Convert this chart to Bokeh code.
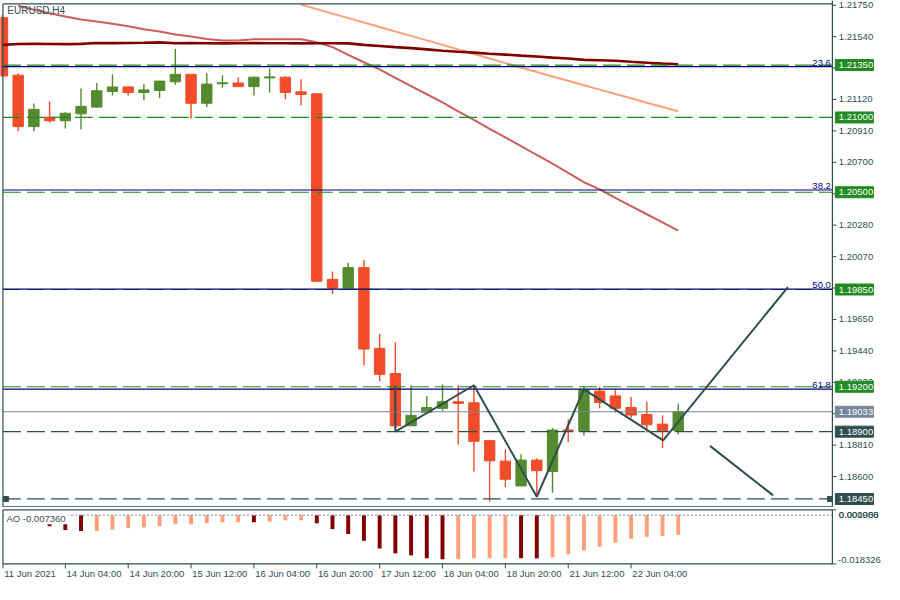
from bokeh.plotting import figure
from bokeh.layouts import column
from bokeh.models import Range1d
from bokeh.core.properties import value
from bokeh.embed import file_html
from bokeh.resources import INLINE

# ---------------- data ----------------
bars = list(range(44))
opens = [1.21667, 1.21282, 1.20939, 1.21002, 1.20978, 1.21024, 1.21069, 1.21173, 1.21204, 1.21167,
         1.21180, 1.21238, 1.21288, 1.21095, 1.21225, 1.21230, 1.21206, 1.21264, 1.21269, 1.21171,
         1.21158, 1.19918, 1.19859, 1.19996, 1.19457, 1.19288, 1.18939, 1.19030, 1.19056, 1.19100,
         1.19093, 1.18840, 1.18703, 1.18537, 1.18710, 1.18634, 1.18911, 1.18905, 1.19171, 1.19139,
         1.19061, 1.19015, 1.18950, 1.18907]
highs = [1.21684, 1.21295, 1.21093, 1.21106, 1.21035, 1.21193, 1.21230, 1.21288, 1.21210, 1.21223,
         1.21243, 1.21457, 1.21288, 1.21295, 1.21282, 1.21269, 1.21275, 1.21327, 1.21275, 1.21256,
         1.21158, 1.19970, 1.20028, 1.20048, 1.19554, 1.19496, 1.19210, 1.19139, 1.19216, 1.19210,
         1.19210, 1.18840, 1.18781, 1.18749, 1.18723, 1.18924, 1.18983, 1.19203, 1.19199, 1.19179,
         1.19132, 1.19100, 1.19009, 1.19087]
lows = [1.21275, 1.20907, 1.20907, 1.20965, 1.20926, 1.20920, 1.21063, 1.21147, 1.21147, 1.21115,
        1.21128, 1.21219, 1.20991, 1.21069, 1.21199, 1.21206, 1.21147, 1.21167, 1.21121, 1.21082,
        1.19905, 1.19820, 1.19853, 1.19342, 1.19238, 1.18905, 1.18939, 1.19030, 1.19035, 1.18814,
        1.18634, 1.18433, 1.18530, 1.18537, 1.18465, 1.18491, 1.18829, 1.18874, 1.19056, 1.19030,
        1.18991, 1.18894, 1.18790, 1.18881]
closes = [1.21277, 1.20939, 1.21054, 1.20978, 1.21028, 1.21074, 1.21178, 1.21204, 1.21167, 1.21184,
          1.21243, 1.21288, 1.21095, 1.21223, 1.21232, 1.21206, 1.21269, 1.21271, 1.21167, 1.21154,
          1.19905, 1.19859, 1.19996, 1.19452, 1.19283, 1.18939, 1.19009, 1.19061, 1.19100, 1.19089,
          1.18835, 1.18705, 1.18582, 1.18710, 1.18640, 1.18911, 1.18905, 1.19179, 1.19095, 1.19056,
          1.19011, 1.18946, 1.18907, 1.19035]

# moving averages
ma_slow_x = list(range(0, 44))
ma_slow = [1.21485, 1.21491, 1.21492, 1.21491, 1.21490, 1.21492, 1.21498, 1.21497, 1.21498, 1.21499,
           1.21502, 1.21496, 1.21497, 1.21496, 1.21495, 1.21496, 1.21497, 1.21496, 1.21496, 1.21495,
           1.21496, 1.21496, 1.21495, 1.21485, 1.21478, 1.21470, 1.21463, 1.21455, 1.21446, 1.21439,
           1.21433, 1.21426, 1.21420, 1.21413, 1.21407, 1.21400, 1.21394, 1.21385, 1.21382, 1.21379,
           1.21372, 1.21366, 1.21360, 1.21356]
ma_mid_x = list(range(1, 44))
ma_mid = [1.21746, 1.21720, 1.21697, 1.21674, 1.21655, 1.21642, 1.21626, 1.21610, 1.21590, 1.21574,
          1.21554, 1.21541, 1.21525, 1.21515, 1.21515, 1.21522, 1.21522, 1.21522, 1.21522, 1.21502,
          1.21470, 1.21418, 1.21369, 1.21321, 1.21265, 1.21210, 1.21155, 1.21100, 1.21041, 1.20983,
          1.20924, 1.20866, 1.20808, 1.20749, 1.20691, 1.20629, 1.20567, 1.20519, 1.20463, 1.20408,
          1.20353, 1.20298, 1.20243]
ma_fast_x = list(range(19, 44))
ma_fast = [1.21754, 1.21724, 1.21694, 1.21664, 1.21634, 1.21604, 1.21574, 1.21545, 1.21515, 1.21485,
           1.21455, 1.21424, 1.21394, 1.21363, 1.21334, 1.21304, 1.21274, 1.21245, 1.21215, 1.21186,
           1.21157, 1.21128, 1.21098, 1.21070, 1.21041]

# levels
green_levels = [1.21350, 1.21000, 1.20500, 1.19850, 1.19200]
fib_levels = [1.21340, 1.20515, 1.19853, 1.19184]
fib_names = ["23.6", "38.2", "50.0", "61.8"]
dark_levels = [1.18900, 1.18450]
current_price = 1.19033

# hand-drawn lines (bar index, price)
zig_x = [25, 25, 30, 34, 37, 42.04, 49.98]
zig_y = [1.19203, 1.18900, 1.19210, 1.18465, 1.19182, 1.18842, 1.19866]
proj_x = [45.02, 49.04]
proj_y = [1.18805, 1.18474]

price_ticks = ["1.21750", "1.21540", "1.21330", "1.21120", "1.20910", "1.20700", "1.20490",
               "1.20280", "1.20070", "1.19860", "1.19650", "1.19440", "1.19230", "1.19020",
               "1.18810", "1.18600"]

date_ticks = [0, 4, 8, 12, 16, 20, 24, 28, 32, 36, 40]
date_labels = ["11 Jun 2021", "14 Jun 04:00", "14 Jun 20:00", "15 Jun 12:00", "16 Jun 04:00",
               "16 Jun 20:00", "17 Jun 12:00", "18 Jun 04:00", "18 Jun 20:00", "21 Jun 12:00",
               "22 Jun 04:00"]

ao_x = list(range(3, 44))
ao_vals = [-0.00414, -0.00560, -0.00596, -0.00594, -0.00535, -0.00487, -0.00462, -0.00414, -0.00341,
           -0.00338, -0.00304, -0.00268, -0.00266, -0.00270, -0.00243, -0.00195, -0.00193, -0.00304,
           -0.00523, -0.00706, -0.00961, -0.01253, -0.01436, -0.01509, -0.01619, -0.01655, -0.01650,
           -0.01619, -0.01615, -0.01612, -0.01618, -0.01625, -0.01582, -0.01473, -0.01327, -0.01181,
           -0.01035, -0.00888, -0.00815, -0.00779, -0.00736]
ao_max = 0.001988
ao_min = -0.018326

# ---------------- style ----------------
FONT = value("Liberation Sans")
FS = "9.5px"
INK = "#2F4F4F"
BULL = "#558B2F"
BEAR = "#F24C2A"
GREEN = "#228B22"
NAVY = "#000080"
GRAY = "#778899"

W = 884
H_MAIN = 507
H_AO = 76
X_START = -0.125
X_END = 56.125
AXIS_X = 52.81
LEFT_X = 0.03
BOX_CX = 54.21
BOX_W = 2.42
LBL_X = 53.22
DASH = "18 6"


def base_fig(h, yr, xr):
    f = figure(width=W, height=h, x_range=xr, y_range=yr, x_axis_location=None,
               y_axis_location=None, toolbar_location=None, output_backend="svg",
               min_border=0, min_border_left=0, min_border_right=0, min_border_top=0,
               min_border_bottom=0, outline_line_color=None, background_fill_color="white",
               border_fill_color="white")
    f.xgrid.visible = False
    f.ygrid.visible = False
    return f


main = base_fig(H_MAIN, Range1d(1.183930, 1.217816), Range1d(X_START, X_END))
y_top = 1.217588
y_bot = 1.18398

# candles
cols = [BULL if c >= o else BEAR for o, c in zip(opens, closes)]
tops = [max(o, c) for o, c in zip(opens, closes)]
bots = [min(o, c) for o, c in zip(opens, closes)]
main.segment(x0=bars, y0=lows, x1=bars, y1=highs, line_color=cols, line_width=1.4)
main.vbar(x=bars, width=0.66, top=tops, bottom=bots, fill_color=cols, line_color=cols, line_width=1)

# moving averages
main.line(ma_fast_x, ma_fast, line_color="#FFA07A", line_width=2)
main.line(ma_mid_x, ma_mid, line_color="#CD5C5C", line_width=2)
main.line(ma_slow_x, ma_slow, line_color="#800000", line_width=2.6)

# horizontal levels
n_g = len(green_levels)
main.segment(x0=[LEFT_X] * n_g, y0=green_levels, x1=[AXIS_X] * n_g, y1=green_levels,
             line_color=GREEN, line_width=1.2, line_dash=DASH)
n_f = len(fib_levels)
main.segment(x0=[LEFT_X] * n_f, y0=fib_levels, x1=[AXIS_X] * n_f, y1=fib_levels,
             line_color=NAVY, line_width=1.2)
main.text(x=[AXIS_X - 0.1] * n_f, y=fib_levels, text=fib_names, text_font=FONT,
          text_font_size=FS, text_color=NAVY, text_align="right", text_baseline="bottom",
          y_offset=-1)
n_d = len(dark_levels)
main.segment(x0=[LEFT_X] * n_d, y0=dark_levels, x1=[AXIS_X] * n_d, y1=dark_levels,
             line_color=INK, line_width=1.2, line_dash=DASH)
main.segment(x0=[LEFT_X], y0=[current_price], x1=[AXIS_X], y1=[current_price],
             line_color=GRAY, line_width=1.2)

# drawn lines
main.line(zig_x, zig_y, line_color=INK, line_width=2)
main.line(proj_x, proj_y, line_color=INK, line_width=2)

# small markers on the lowest level
main.rect(x=[0.22, 52.66], y=[dark_levels[1]] * 2, width=5, height=5, width_units="screen",
          height_units="screen", fill_color=INK, line_color=INK)

# frame
main.segment(x0=[LEFT_X, LEFT_X, LEFT_X, AXIS_X], y0=[y_top, y_bot, y_bot, y_bot],
             x1=[AXIS_X, AXIS_X, LEFT_X, AXIS_X], y1=[y_top, y_bot, y_top, 1.217816],
             line_color=INK, line_width=1.2)

# right price axis
tick_vals = [float(t) for t in price_ticks]
nt = len(tick_vals)
main.segment(x0=[AXIS_X] * nt, y0=tick_vals, x1=[AXIS_X + 0.25] * nt, y1=tick_vals,
             line_color=INK, line_width=1)
main.text(x=[LBL_X] * nt, y=tick_vals, text=price_ticks, text_font=FONT, text_font_size=FS,
          text_color=INK, text_align="left", text_baseline="middle")

box_vals = green_levels + [current_price] + dark_levels
box_cols = [GREEN] * n_g + [GRAY] + [INK] * n_d
box_txt = ["%.5f" % v for v in box_vals]
main.rect(x=[BOX_CX] * len(box_vals), y=box_vals, width=BOX_W, height=11, height_units="screen",
          fill_color=box_cols, line_color=box_cols)
main.text(x=[LBL_X] * len(box_vals), y=box_vals, text=box_txt, text_font=FONT,
          text_font_size=FS, text_color="white", text_align="left", text_baseline="middle")

main.text(x=[0.31], y=[1.21717], text=["EURUSD,H4"], text_font=FONT, text_font_size="10px",
          text_color=INK, text_align="left", text_baseline="middle")

# ---------------- AO sub-window ----------------
ao = base_fig(H_AO, Range1d(-0.02566, 0.002884), main.x_range)
ao_cols = []
for i, v in enumerate(ao_vals):
    if i == 0 or v < ao_vals[i - 1]:
        ao_cols.append("#800000")
    else:
        ao_cols.append("#FFA07A")
ao.vbar(x=ao_x, width=0.25, top=[0] * len(ao_x), bottom=ao_vals, fill_color=ao_cols,
        line_color=None)
ao.segment(x0=[LEFT_X], y0=[0], x1=[AXIS_X], y1=[0], line_color=GRAY, line_width=1,
           line_dash="2 2")
ao.quad(left=[0.125], right=[4.19], top=[0.00172], bottom=[-0.0034], fill_color="white",
        line_color=None)
ao.text(x=[0.25], y=[-0.0012], text=["AO -%.6f" % abs(ao_vals[-1])], text_font=FONT,
        text_font_size=FS, text_color=INK, text_align="left", text_baseline="middle")

# frame
ao.segment(x0=[LEFT_X, LEFT_X, LEFT_X, AXIS_X], y0=[ao_max, ao_min, ao_min, ao_min],
           x1=[AXIS_X, AXIS_X, LEFT_X, AXIS_X], y1=[ao_max, ao_min, ao_max, ao_max],
           line_color=INK, line_width=1.2)
ao.segment(x0=[AXIS_X] * 2, y0=[ao_max, ao_min], x1=[AXIS_X + 0.25] * 2, y1=[ao_max, ao_min],
           line_color=INK, line_width=1)
ao.text(x=[LBL_X, LBL_X], y=[0, 0], text=["%.6f" % ao_max, "%.6f" % 0.0], text_font=FONT,
        text_font_size=FS, text_color=INK, text_align="left", text_baseline="middle",
        y_offset=[-0.5, 0])
ao.text(x=[LBL_X - 0.05], y=[ao_min], text=["%.6f" % ao_min], text_font=FONT,
        text_font_size=FS, text_color=INK, text_align="left", text_baseline="bottom",
        y_offset=-1)

# date axis
tick_x = [max(t, LEFT_X) for t in date_ticks]
ao.segment(x0=tick_x, y0=[ao_min] * len(tick_x), x1=tick_x, y1=[-0.0200] * len(tick_x),
           line_color=INK, line_width=1)
ao.text(x=[t + 0.08 for t in tick_x], y=[-0.02201] * len(tick_x), text=date_labels,
        text_font=FONT, text_font_size=FS, text_color=INK, text_align="left",
        text_baseline="middle")

layout = column(main, ao, spacing=0)
open("out.html", "w").write(file_html(layout, INLINE))
